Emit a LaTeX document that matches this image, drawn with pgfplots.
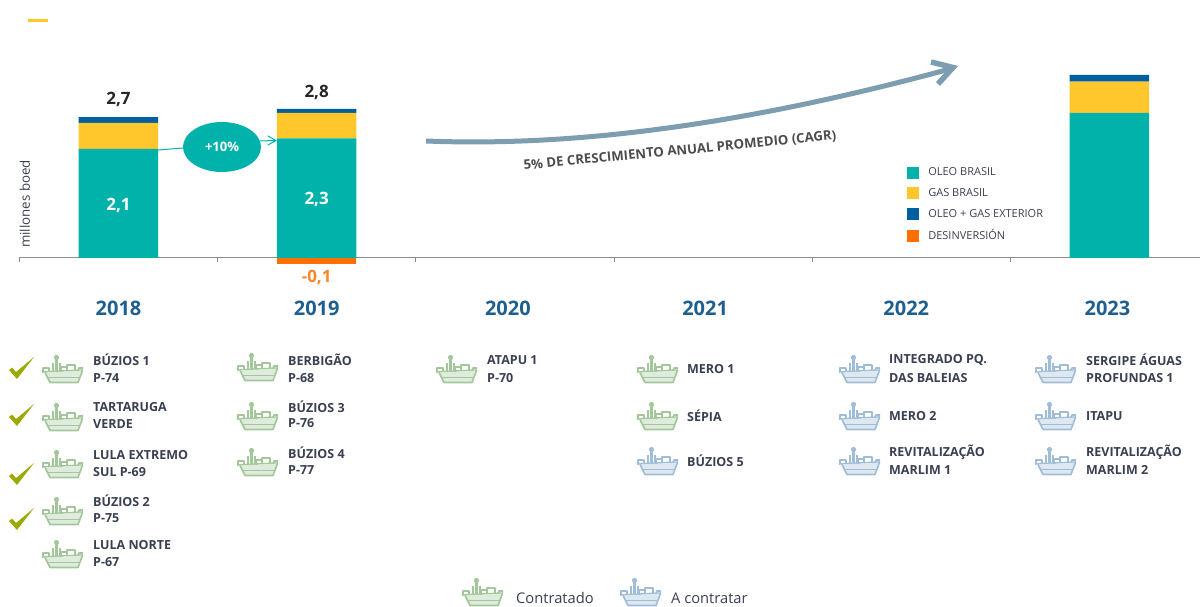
\documentclass[border=0pt]{standalone}
\usepackage{fontspec}
\setmainfont{Open Sans}
\usepackage{pgfplots}
\pgfplotsset{compat=1.18}
\definecolor{teal1}{HTML}{00B2A9}
\definecolor{gold1}{HTML}{FFC72C}
\definecolor{blue1}{HTML}{005F9E}
\definecolor{orng1}{HTML}{FF6F00}
\definecolor{yearc}{HTML}{1F5F8F}
\definecolor{txtc}{HTML}{3A3F52}
\definecolor{shipg}{HTML}{A3C79B}
\definecolor{shipb}{HTML}{A0BDD8}
\definecolor{arrowc}{HTML}{7D9DB0}
\definecolor{checkc}{HTML}{9AAA00}
\newcommand{\fs}[1]{\fontsize{#1}{#1}\selectfont}
\newcommand{\ship}[3]{%
  \begin{scope}[shift={(#1,#2)},draw=#3,line width=1.6pt,line join=round]
    \fill[#3] (14.5,2.5) circle (2.6);
    \draw[line width=2.4pt] (14.5,2) -- (14.5,17);
    \draw (11,8) -- (11,17);
    \draw (18,8) -- (18,17);
    \draw (0,17) -- (41,15);
    \fill[#3!35] (3,17.5) -- (8,27.5) -- (36,27.5) -- (40.5,15.5) -- cycle;
    \draw (3,17.5) -- (8,27.5) -- (36,27.5) -- (40.5,15.5);
    \draw (5.5,22.5) -- (38,22.5);
    \draw (19,16.5) -- (19,12) -- (25,12) -- (25,16);
    \draw (25,12.5) -- (25,10) -- (33,10) -- (33,15.5);
    \draw (1,17) -- (1,13) -- (7,13) -- (7,17);
    \draw (36,15.5) -- (37,13) -- (41,13);
  \end{scope}}
\newcommand{\itm}[3]{\node[anchor=west,inner sep=0pt,text=txtc,font=\fs{12.5}\bfseries] at (#1,#2) {#3};}
\newcommand{\chk}[2]{\fill[checkc,shift={(#1,#2)}] (0,13) -- (3,10.5) -- (7,15) -- (25,0) -- (8,22) -- cycle;}
\begin{document}
\begin{tikzpicture}
\begin{axis}[
  at={(19pt,336pt)},anchor=south west,
  scale only axis,width=1181pt,height=210pt,
  xmin=-0.502,xmax=5.4566,ymin=-0.2308,ymax=3.8077,
  clip=false,
  ybar stacked,bar width=79.5pt,
  axis x line=center,axis y line=none,
  axis line style={-,color=black!45,line width=1pt},
  xtick={0,1,2,3,4,5},
  xticklabels={2018,2019,\hspace*{-14pt}2020,\hspace*{-16pt}2021,\hspace*{-10pt}\raisebox{-2pt}{2022},\hspace*{-4pt}2023},
  major tick length=0pt,
  minor xtick={-0.5,0.5,1.5,2.5,3.5,4.5},
  minor tick length=4pt,
  minor tick style={color=black!45,line width=0.8pt},
  tick align=outside,
  x tick label style={anchor=center,yshift=-50pt,font=\fs{20}\bfseries,text=yearc},
  legend style={at={(axis cs:3.98,1.77)},anchor=north west,draw=none,fill=none,
    inner sep=0pt,outer sep=0pt,font=\fs{11},text=txtc,
    row sep=7.1pt},
  legend cell align=left,
  legend image code/.code={\fill[#1] (0pt,-6pt) rectangle (12pt,6pt); \path (19pt,0pt);},
]
\addplot[fill=teal1,draw=none] coordinates {(0,2.1) (1,2.3) (5,2.79)};
\addplot[fill=gold1,draw=none] coordinates {(0,0.5) (1,0.49) (5,0.6)};
\addplot[fill=blue1,draw=none] coordinates {(0,0.11) (1,0.08) (5,0.13)};
\addlegendimage{fill=orng1,draw=none}
\legend{OLEO BRASIL,GAS BRASIL,OLEO + GAS EXTERIOR,DESINVERSIÓN}
\end{axis}
\begin{axis}[
  at={(19pt,336pt)},anchor=south west,
  scale only axis,width=1181pt,height=210pt,
  xmin=-0.502,xmax=5.4566,ymin=-0.2308,ymax=3.8077,
  hide axis,clip=false,ybar,bar width=79.5pt,bar shift=0pt,
]
\addplot[fill=orng1,draw=none] coordinates {(1,-0.12)};
\node[font=\fs{17}\bfseries,text=white] at (axis cs:0,1.02) {2,1};
\node[font=\fs{17}\bfseries,text=white] at (axis cs:1,1.13) {2,3};
\node[font=\fs{17}\bfseries,text=black!85] at (axis cs:0,3.04) {2,7};
\node[font=\fs{17}\bfseries,text=black!85] at (axis cs:1,3.19) {2,8};
\node[font=\fs{17}\bfseries,text=orng1!85!white] at (axis cs:1,-0.365) {-0,1};
\end{axis}
\begin{scope}[x=1pt,y=-1pt,yshift=606pt]
  % accent
  \fill[gold1] (28,19) rectangle (48,22);
  % y label
  \node[rotate=90,font=\fs{13.3},text=txtc,inner sep=0pt] at (25,204) {millones boed};
  % growth ellipse
  \draw[teal1,line width=1pt] (158,150) -- (184,148);
  \draw[teal1,line width=1pt,line cap=round,line join=round] (260,141) -- (275,140.5) (268,136) -- (276,140.5) -- (268,145);
  \fill[teal1] (222,147) ellipse (39 and 25);
  \node[font=\fs{13}\bfseries,text=white] at (222,147) {+10\%};
  % CAGR arrow
  \draw[arrowc,line width=5pt] (426,141) .. controls (600,148) and (780,115) .. (950,69);
  \draw[arrowc,line width=5.5pt,line join=miter] (931,62) -- (953,67.5) -- (938,84);
  \node[rotate=5.5,font=\fs{13.2}\bfseries,text=black!70] at (680,151) {5\% DE CRESCIMIENTO ANUAL PROMEDIO (CAGR)};
  % column 2018
  \chk{9}{357}\chk{9}{404}\chk{9}{463}\chk{9}{508}
  \ship{42}{355}{shipg}\itm{93}{360}{BÚZIOS 1}\itm{93}{378}{P-74}
  \ship{42}{403}{shipg}\itm{93}{407}{TARTARUGA}\itm{93}{424}{VERDE}
  \ship{42}{450}{shipg}\itm{93}{455}{LULA EXTREMO}\itm{93}{472}{SUL P-69}
  \ship{42}{497}{shipg}\itm{93}{501}{BÚZIOS 2}\itm{93}{518}{P-75}
  \ship{42}{540}{shipg}\itm{93}{545}{LULA NORTE}\itm{93}{562}{P-67}
  % column 2019
  \ship{237}{353}{shipg}\itm{288}{360}{BERBIGÃO}\itm{288}{378}{P-68}
  \ship{237}{402}{shipg}\itm{288}{407}{BÚZIOS 3}\itm{288}{423}{P-76}
  \ship{237}{448}{shipg}\itm{288}{453}{BÚZIOS 4}\itm{288}{470}{P-77}
  % column 2020
  \ship{436}{355}{shipg}\itm{487}{360}{ATAPU 1}\itm{487}{378}{P-70}
  % column 2021
  \ship{637}{355}{shipg}\itm{687}{369}{MERO 1}
  \ship{637}{402}{shipg}\itm{687}{416}{SÉPIA}
  \ship{637}{447}{shipb}\itm{687}{461}{BÚZIOS 5}
  % column 2022
  \ship{839}{355}{shipb}\itm{889}{360}{INTEGRADO PQ.}\itm{889}{378}{DAS BALEIAS}
  \ship{839}{402}{shipb}\itm{889}{416}{MERO 2}
  \ship{839}{447}{shipb}\itm{889}{452}{REVITALIZAÇÃO}\itm{889}{470}{MARLIM 1}
  % column 2023
  \ship{1035}{355}{shipb}\itm{1086}{360}{SERGIPE ÁGUAS}\itm{1086}{378}{PROFUNDAS 1}
  \ship{1035}{402}{shipb}\itm{1086}{416}{ITAPU}
  \ship{1035}{447}{shipb}\itm{1086}{452}{REVITALIZAÇÃO}\itm{1086}{470}{MARLIM 2}
  % key
  \ship{462}{578}{shipg}
  \node[anchor=west,inner sep=0pt,font=\fs{14.7},text=txtc] at (516,598) {Contratado};
  \ship{620}{578}{shipb}
  \node[anchor=west,inner sep=0pt,font=\fs{14.7},text=txtc] at (671,598) {A contratar};
\end{scope}
\pgfresetboundingbox
\path[use as bounding box] (0,0) rectangle (1200pt,606pt);
\end{tikzpicture}
\end{document}
